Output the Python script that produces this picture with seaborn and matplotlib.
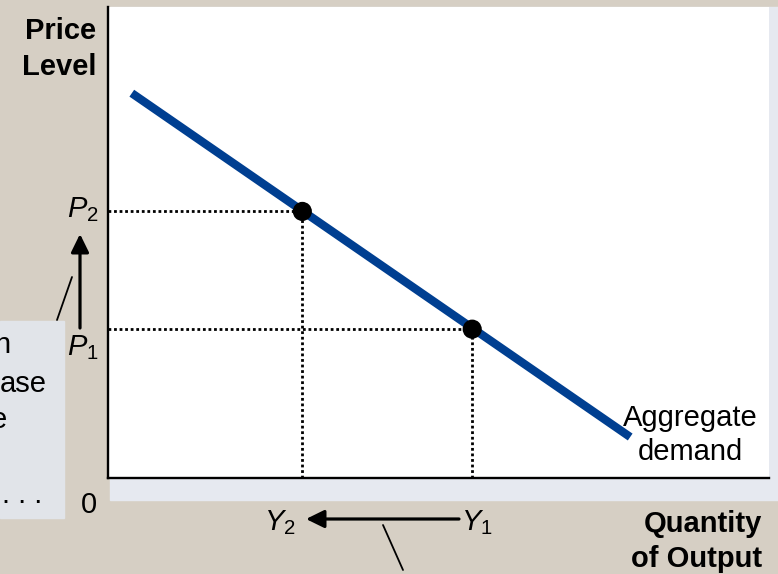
import matplotlib
matplotlib.use("Agg")
import matplotlib.pyplot as plt
import seaborn as sns
from matplotlib.patches import Rectangle, FancyArrowPatch

# aggregate demand curve (axis units 0-10)
ad_x = [0.36, 7.90]
ad_y = [8.17, 0.87]

# the two equilibrium points: (Y2, P2) and (Y1, P1)
point_labels = ["2", "1"]
point_x = [2.94, 5.51]
point_y = [5.66, 3.16]

# cut-off text in the side box
box_lines = ["n", "ase", "e", ". . ."]

BG = "#d6cfc4"
BLUE = "#003f91"
W, H = 778, 574


def fx(x):
    return x / W


def fy(y):
    return 1 - y / H


sns.set_theme(style="white")
plt.rcParams["font.family"] = ["Liberation Sans", "DejaVu Sans"]
plt.rcParams["mathtext.fontset"] = "custom"
plt.rcParams["mathtext.rm"] = "Liberation Sans"
plt.rcParams["mathtext.it"] = "Liberation Sans:italic"
plt.rcParams["text.color"] = "black"

fig = plt.figure(figsize=(W / 100, H / 100), dpi=100, facecolor=BG)

# drop shadow behind the plot panel
fig.patches.append(Rectangle((fx(110), fy(500)), (778 - 110) / W, (500 - 7) / H,
                             transform=fig.transFigure, color="#e6e9f0", zorder=-2))
# side note box on the left
fig.patches.append(Rectangle((0, fy(518)), 64 / W, (518 - 321) / H,
                             transform=fig.transFigure, color="#e1e4e9", zorder=-2))

ax = fig.add_axes([fx(108), fy(478), (769 - 108) / W, (478 - 7) / H])
ax.set_facecolor("white")
ax.set_xlim(0, 10)
ax.set_ylim(0, 10)
for s in ["top", "right"]:
    ax.spines[s].set_visible(False)
for s in ["left", "bottom"]:
    ax.spines[s].set_color("black")
    ax.spines[s].set_linewidth(1.7)
ax.set_xticks([])
ax.set_yticks([])

# dotted guides
ax.hlines(point_y, 0, point_x, colors="black", linestyles=(0, (1, 1)), lw=2.0, zorder=2)
ax.vlines(point_x, 0, point_y, colors="black", linestyles=(0, (1, 1)), lw=2.0, zorder=2)

line = sns.lineplot(x=ad_x, y=ad_y, ax=ax, color=BLUE, lw=6, zorder=3)
line.lines[-1].set_solid_capstyle("butt")
sns.scatterplot(x=point_x, y=point_y, ax=ax, color="black", s=190, edgecolor="none",
                zorder=4, legend=False)
ax.set_xlabel("")
ax.set_ylabel("")

fs = 21
# axis titles
fig.text(fx(96), fy(75), "Price\nLevel", ha="right", va="baseline", fontsize=fs,
         fontweight="bold", linespacing=1.38)
fig.text(fx(762), fy(567), "Quantity\nof Output", ha="right", va="baseline", fontsize=fs,
         fontweight="bold", linespacing=1.3)
fig.text(fx(690), fy(460), "Aggregate\ndemand", ha="center", va="baseline", fontsize=fs,
         linespacing=1.25)
fig.text(fx(89), fy(513), "0", ha="center", va="baseline", fontsize=fs)

# price labels and arrow
fig.text(fx(67), fy(217), "$P_{%s}$" % point_labels[0], ha="left", va="baseline", fontsize=fs)
fig.text(fx(67), fy(355), "$P_{%s}$" % point_labels[1], ha="left", va="baseline", fontsize=fs)
fig.add_artist(FancyArrowPatch(
    (fx(80), fy(328)), (fx(80), fy(234)), transform=fig.transFigure,
    arrowstyle="-|>,head_length=0.55,head_width=0.27", mutation_scale=20,
    lw=2.3, color="black", shrinkA=0, shrinkB=0))
fig.add_artist(plt.Line2D([fx(57), fx(72)], [fy(320), fy(277)], transform=fig.transFigure,
                          color="black", lw=1.3))

# output labels and arrow
fig.text(fx(264), fy(530), "$Y_{%s}$" % point_labels[0], ha="left", va="baseline", fontsize=fs)
fig.text(fx(461), fy(530), "$Y_{%s}$" % point_labels[1], ha="left", va="baseline", fontsize=fs)
fig.add_artist(FancyArrowPatch(
    (fx(459), fy(519)), (fx(306), fy(519)), transform=fig.transFigure,
    arrowstyle="-|>,head_length=0.55,head_width=0.27", mutation_scale=20,
    lw=2.3, color="black", shrinkA=0, shrinkB=0))
fig.add_artist(plt.Line2D([fx(383), fx(403)], [fy(525), fy(570)], transform=fig.transFigure,
                          color="black", lw=1.3))

# clipped note text on the left
for txt, xr, yb in zip(box_lines, [10, 47, 7, 42], [353, 392, 428, 503]):
    fig.text(fx(xr), fy(yb), txt, ha="right", va="baseline", fontsize=fs)

fig.savefig("out.png", dpi=100, facecolor=BG)
